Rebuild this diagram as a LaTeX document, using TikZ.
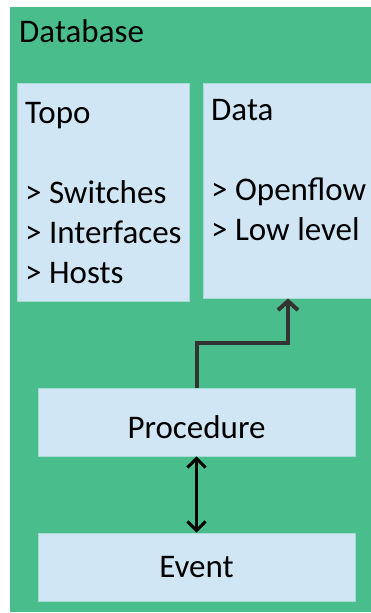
\documentclass[tikz,border=0pt]{standalone}
\usepackage{fontspec}
\setmainfont{Carlito}
\usetikzlibrary{arrows.meta}
\definecolor{dbgreen}{HTML}{49BE8C}
\definecolor{boxblue}{HTML}{D0E6F4}
\definecolor{darkline}{HTML}{333333}

\begin{document}
\begin{tikzpicture}[x=1pt,y=-1pt,
    box/.style={fill=boxblue,draw=boxblue!70!dbgreen,line width=0.8pt,inner sep=0pt},
    txt/.style={anchor=base west,inner sep=0pt,align=left,font=\fontsize{33}{40}\selectfont},
    flow/.style={line width=4pt,darkline,-{Straight Barb[length=9pt,width=20pt]}},
    link/.style={line width=3pt,black,{Straight Barb[length=9pt,width=18pt]}-{Straight Barb[length=9pt,width=18pt]}}]
    \useasboundingbox (0,0) rectangle (371,613);
    \fill[dbgreen] (10,7) rectangle (371,612);
    \node[txt] (dbtitle) at (19,42) {Database};
    % stores (text anchored on its last line)
    \node[box,minimum width=172pt,minimum height=218pt] (topo) at (103,192) {};
    \node[box,minimum width=170pt,minimum height=215pt] (data) at (288,190.5) {};
    \node[txt] (topotext) at (25,283) {Topo\\[40pt]> Switches\\> Interfaces\\> Hosts};
    \node[txt] (datatext) at (211,240) {Data\\[40pt]> Openflow\\> Low level};
    % handlers
    \node[box,minimum width=317pt,minimum height=68pt,text height=32pt,text depth=0pt,font=\fontsize{33}{40}\selectfont] (proc) at (196.5,422) {Procedure};
    \node[box,minimum width=317pt,minimum height=68pt,text height=20pt,text depth=0pt,font=\fontsize{33}{40}\selectfont] (event) at (196.5,567) {Event};
    \draw[flow] (proc.north) -- ++(0,-45) -| (data.south);
    \draw[link] (proc.south) -- (event.north);
\end{tikzpicture}
\end{document}
